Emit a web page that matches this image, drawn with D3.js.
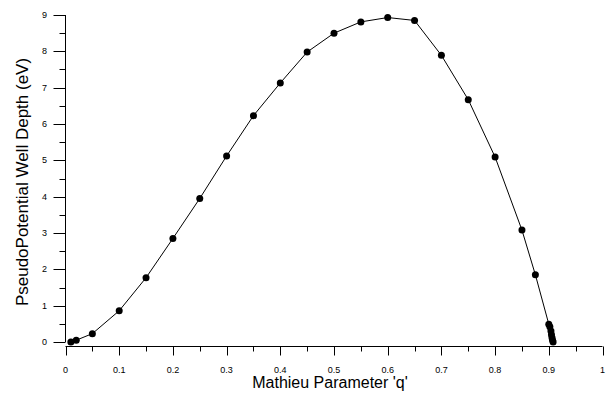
<!DOCTYPE html>
<html lang="en">
<head>
<meta charset="UTF-8" />
<title>Pseudopotential well depth</title>
<style>
  html, body { margin: 0; padding: 0; background: #fff; }
  svg { display: block; }
</style>
</head>
<body>
<script src="https://d3js.org/d3.v7.min.js"></script>
<script>
// Mathieu q vs well depth (eV)
const qValues = [0.01, 0.02, 0.05, 0.1, 0.15, 0.2, 0.25, 0.3, 0.35, 0.4, 0.45, 0.5, 0.55, 0.6,
  0.65, 0.7, 0.75, 0.8, 0.85, 0.875, 0.9, 0.902, 0.904, 0.905, 0.906, 0.907, 0.908];
const depthValues = [0.0, 0.05, 0.23, 0.86, 1.77, 2.85, 3.95, 5.12, 6.23, 7.13, 7.98, 8.5, 8.81, 8.93,
  8.85, 7.89, 6.67, 5.09, 3.08, 1.85, 0.49, 0.42, 0.3, 0.2, 0.12, 0.05, 0.0];
const xTicks = [0, 0.1, 0.2, 0.3, 0.4, 0.5, 0.6, 0.7, 0.8, 0.9, 1];
const yTicks = [0, 1, 2, 3, 4, 5, 6, 7, 8, 9];

const width = 609, height = 393;
const svg = d3.select("body").append("svg")
  .attr("width", width).attr("height", height)
  .style("font-family", "Liberation Sans, Arial, sans-serif");

const x = d3.scaleLinear().domain([0, 1]).range([65.5, 602.5]);
const y = d3.scaleLinear().domain([0, 9]).range([342, 15]);
const xAxisY = 346.5;

// x axis
const gx = svg.append("g").attr("stroke", "#000").attr("stroke-width", 1);
gx.append("line").attr("x1", x(0)).attr("x2", x(1)).attr("y1", xAxisY).attr("y2", xAxisY);
gx.selectAll("line.major").data(xTicks).join("line").attr("class", "major")
  .attr("x1", d => Math.round(x(d)) + 0.5).attr("x2", d => Math.round(x(d)) + 0.5)
  .attr("y1", xAxisY).attr("y2", xAxisY + 9);
gx.selectAll("line.minor").data(d3.range(0.05, 1, 0.1)).join("line").attr("class", "minor")
  .attr("x1", d => Math.round(x(d)) + 0.5).attr("x2", d => Math.round(x(d)) + 0.5)
  .attr("y1", xAxisY).attr("y2", xAxisY + 5);
svg.append("g").selectAll("text").data(xTicks).join("text")
  .attr("x", d => x(d)).attr("y", 373)
  .attr("text-anchor", "middle").attr("font-size", 9).attr("fill", "#000")
  .text(d => d);

// y axis
const yAxisX = 65.5;
const gy = svg.append("g").attr("stroke", "#000").attr("stroke-width", 1);
gy.append("line").attr("x1", yAxisX).attr("x2", yAxisX).attr("y1", y(9)).attr("y2", y(0));
gy.selectAll("line.major").data(yTicks).join("line").attr("class", "major")
  .attr("x1", yAxisX - 12).attr("x2", yAxisX)
  .attr("y1", d => Math.round(y(d)) + 0.5).attr("y2", d => Math.round(y(d)) + 0.5);
gy.selectAll("line.minor").data(d3.range(0.5, 9, 1)).join("line").attr("class", "minor")
  .attr("x1", yAxisX - 6).attr("x2", yAxisX)
  .attr("y1", d => Math.round(y(d)) + 0.5).attr("y2", d => Math.round(y(d)) + 0.5);
svg.append("g").selectAll("text").data(yTicks).join("text")
  .attr("x", 47).attr("y", d => y(d)).attr("dy", "0.35em")
  .attr("text-anchor", "end").attr("font-size", 9).attr("fill", "#000")
  .text(d => d);

// titles
svg.append("text").attr("x", 330).attr("y", 388)
  .attr("text-anchor", "middle").attr("font-size", 16).text("Mathieu Parameter 'q'");
svg.append("text").attr("transform", "translate(27.5,182) rotate(-90)")
  .attr("text-anchor", "middle").attr("font-size", 17).text("PseudoPotential Well Depth (eV)");

// data
const pts = qValues.map((q, i) => [q, depthValues[i]]);
svg.append("path").datum(pts)
  .attr("fill", "none").attr("stroke", "#000").attr("stroke-width", 1)
  .attr("d", d3.line().x(d => x(d[0])).y(d => y(d[1])).curve(d3.curveLinear));
svg.append("g").selectAll("circle").data(pts).join("circle")
  .attr("cx", d => x(d[0])).attr("cy", d => y(d[1])).attr("r", 3.5).attr("fill", "#000");
</script>
</body>
</html>
